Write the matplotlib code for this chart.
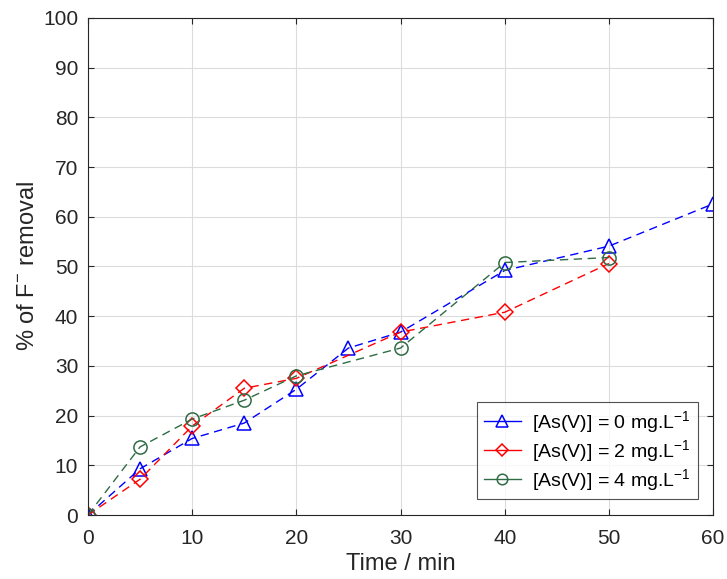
import matplotlib
matplotlib.use("Agg")
import matplotlib.pyplot as plt
from matplotlib.lines import Line2D

plt.rcParams['font.family'] = ['Liberation Sans', 'DejaVu Sans']
plt.rcParams['mathtext.fontset'] = 'custom'
plt.rcParams['mathtext.rm'] = 'Liberation Sans'
plt.rcParams['mathtext.it'] = 'Liberation Sans'
plt.rcParams['mathtext.default'] = 'regular'

# Fluoride removal over time for three arsenate concentrations
time_0 = [0, 5, 10, 15, 20, 25, 30, 40, 50, 60]
removal_0 = [0, 9.3, 15.4, 18.5, 25.3, 33.6, 36.8, 49.2, 54.1, 62.6]

time_2 = [0, 5, 10, 15, 20, 30, 40, 50]
removal_2 = [0, 7.2, 17.9, 25.5, 27.5, 36.8, 40.8, 50.6]

time_4 = [0, 5, 10, 15, 20, 30, 40, 50]
removal_4 = [0, 13.7, 19.3, 23.1, 28.0, 33.6, 50.8, 51.8]

labels = ['[As(V)] = 0 mg.L$^{-1}$',
          '[As(V)] = 2 mg.L$^{-1}$',
          '[As(V)] = 4 mg.L$^{-1}$']

xticks = [0, 10, 20, 30, 40, 50, 60]
yticks = [0, 10, 20, 30, 40, 50, 60, 70, 80, 90, 100]

fig = plt.figure(figsize=(7.27, 5.79), dpi=100)
ax = fig.add_axes([0.121, 0.1105, 0.86, 0.8585])

green = '#2f6b45'
styles = [
    dict(color='blue', marker='^', markersize=10),
    dict(color='red', marker='D', markersize=8),
    dict(color=green, marker='o', markersize=9.5),
]
series = [(time_0, removal_0), (time_2, removal_2), (time_4, removal_4)]

handles = []
for (t, r), st, lab in zip(series, styles, labels):
    ax.plot(t, r, linestyle=(0, (6, 4)), lw=1.0, markerfacecolor='none',
            markeredgewidth=1.1, **st)
    handles.append(Line2D([], [], linestyle='-', lw=1.0, markerfacecolor='none',
                          markeredgewidth=1.1, label=lab, **st))

ax.set_xlim(0, 60)
ax.set_ylim(0, 100)
ax.set_xticks(xticks)
ax.set_yticks(yticks)
ax.grid(True, color='#dcdcdc', linewidth=0.8)
ax.set_axisbelow(True)
ax.tick_params(labelsize=15, direction='in', length=4, colors='#262626',
               top=True, right=True)
ax.tick_params(axis='x', pad=10)
ax.tick_params(axis='y', pad=7)
for s in ax.spines.values():
    s.set_color('#262626')
    s.set_linewidth(0.8)

ax.set_xlabel('Time / min', fontsize=17, color='#262626', labelpad=4)
ax.set_ylabel('% of F$^{-}$ removal', fontsize=17, color='#262626', labelpad=3)

leg = ax.legend(handles=handles, loc='lower right', fontsize=14, frameon=True,
                fancybox=False, edgecolor='#262626', handlelength=1.9,
                borderaxespad=0.8, labelspacing=0.15, handletextpad=0.6,
                borderpad=0.35, markerscale=0.8)
leg.get_frame().set_linewidth(0.8)

fig.savefig('out.png', dpi=100)
